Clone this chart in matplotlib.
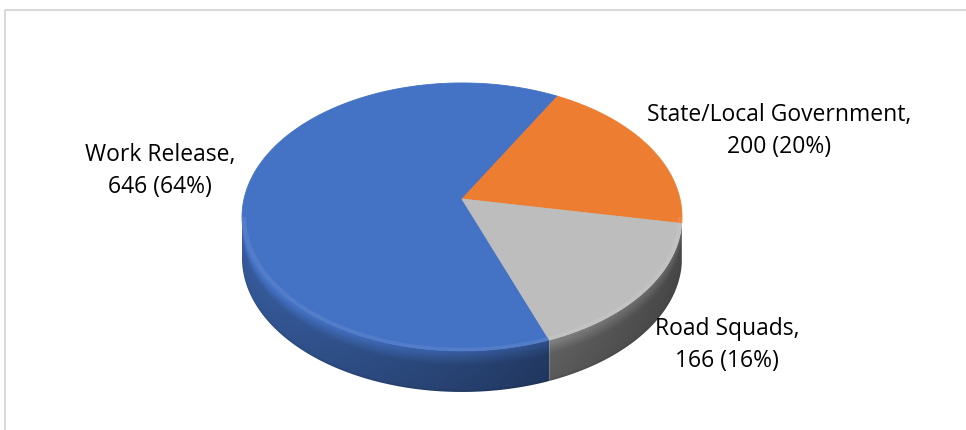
import numpy as np
import matplotlib
matplotlib.use("Agg")
import matplotlib.pyplot as plt
from matplotlib.patches import Polygon
from matplotlib.colors import to_rgb

# Placement data
categories = ["Work Release", "State/Local Government", "Road Squads"]
values = [646, 200, 166]
colors = ["#4472C4", "#ED7D31", "#BDBDBD"]
label_pos = [(160, 171), (779, 131), (727, 345)]

# Geometry of the 3-D disc (pixel units)
CX, CY = 462, 199          # apex of the slices
A, B = 218, 131.6          # radii before perspective
K = 0.134                  # perspective strength
DEPTH = 41                 # thickness of the disc
FIRST_ANGLE = 159.5        # clockwise from 12 o'clock


def proj(phi, r=1.0):
    """Project disc angle(s) phi (radians, ccw, 0 = east) at radius r."""
    X = r * np.cos(phi)
    Y = -r * np.sin(phi)
    w = 1 - K * Y
    return CX + A * X / w, CY + B * Y / w


fig = plt.figure(figsize=(9.66, 4.30), dpi=100)
ax = fig.add_axes([0, 0, 1, 1])
ax.set_xlim(0, 966)
ax.set_ylim(430, 0)
ax.axis("off")

# chart frame
ax.plot([5, 5, 970], [440, 10, 10], color="#D9D9D9", lw=1.5, solid_capstyle="butt")

total = float(sum(values))
start = np.deg2rad(90 - FIRST_ANGLE)
spans = []
for v in values:
    end = start - 2 * np.pi * v / total
    spans.append((end, start))
    start = end

# visible front arc of the rim (left silhouette -> right silhouette)
lo = -(np.pi - np.arcsin(K))
hi = -np.arcsin(K)
arc = np.linspace(lo, hi, 800)
arc_x, arc_y = proj(arc)
xmax_half = A / np.sqrt(1 - K * K)

# shading field for the side wall
gx = np.arange(arc_x.min() - 2, arc_x.max() + 2, 0.5)
gy = np.arange(arc_y.min() - 6, arc_y.max() + DEPTH + 4, 0.5)
GX, GY = np.meshgrid(gx, gy)
rim = np.interp(GX, arc_x, arc_y)
T = (GY - rim) / DEPTH
Xn = np.clip((GX - CX) / xmax_half, -1, 1)
horiz = 0.62 - 0.22 * Xn
vert = np.where(T < 0.04, 1.28,
                np.where(T < 0.35, 1.28 - (T - 0.04) / 0.31 * 0.33, 0.95 - 0.08 * (T - 0.35)))
vert = np.where(T > 0.93, vert * (1 - (T - 0.93) * 1.5), vert)
field = horiz * vert


def pieces(a, b):
    """Parts of the angle range [a, b] that lie on the front arc."""
    out = []
    for shift in (-2 * np.pi, 0, 2 * np.pi):
        u0, u1 = max(a + shift, lo), min(b + shift, hi)
        if u1 > u0:
            out.append((u0, u1))
    return out


# side walls
for (a, b), col in zip(spans, colors):
    c = np.array(to_rgb(col))
    for u0, u1 in pieces(a, b):
        ph = np.linspace(u0, u1, 200)
        tx, ty = proj(ph)
        pts = list(zip(tx, ty)) + list(zip(tx[::-1], ty[::-1] + DEPTH))
        clip = Polygon(pts, closed=True, fc="none", ec="none")
        ax.add_patch(clip)
        img = np.clip(field[..., None] * c[None, None, :], 0, 1)
        im = ax.imshow(img, extent=(gx[0], gx[-1], gy[-1], gy[0]), origin="upper",
                       interpolation="bilinear", aspect="auto", zorder=1)
        im.set_clip_path(clip)

# top faces
for (a, b), col in zip(spans, colors):
    ph = np.linspace(b, a, 300)
    xs, ys = proj(ph)
    pts = [(CX, CY)] + list(zip(xs, ys))
    ax.add_patch(Polygon(pts, closed=True, fc=col, ec=col, lw=0.6, zorder=2))

# soft bevel highlight along the rim of the top face
for (a, b), col in zip(spans, colors):
    c = np.array(to_rgb(col))
    light = c + (1 - c) * 0.12
    for u0, u1 in pieces(a, b):
        ph = np.linspace(u0, u1, 200)
        ox, oy = proj(ph, 1.0)
        ix, iy = proj(ph, 0.982)
        pts = list(zip(ox, oy)) + list(zip(ix[::-1], iy[::-1]))
        ax.add_patch(Polygon(pts, closed=True, fc=light, ec="none", alpha=0.7, zorder=3))

ax.set_xlim(0, 966)
ax.set_ylim(430, 0)

# data labels
plt.rcParams["font.family"] = ["Open Sans", "DejaVu Sans"]
for name, v, (lx, ly) in zip(categories, values, label_pos):
    pct = round(100 * v / total)
    ax.text(lx, ly, f"{name},\n{v} ({pct}%)", ha="center", va="center",
            fontsize=16.5, color="#000000", linespacing=1.42,
            family=["Open Sans", "DejaVu Sans"], zorder=5)

fig.savefig("out.png", dpi=100)
